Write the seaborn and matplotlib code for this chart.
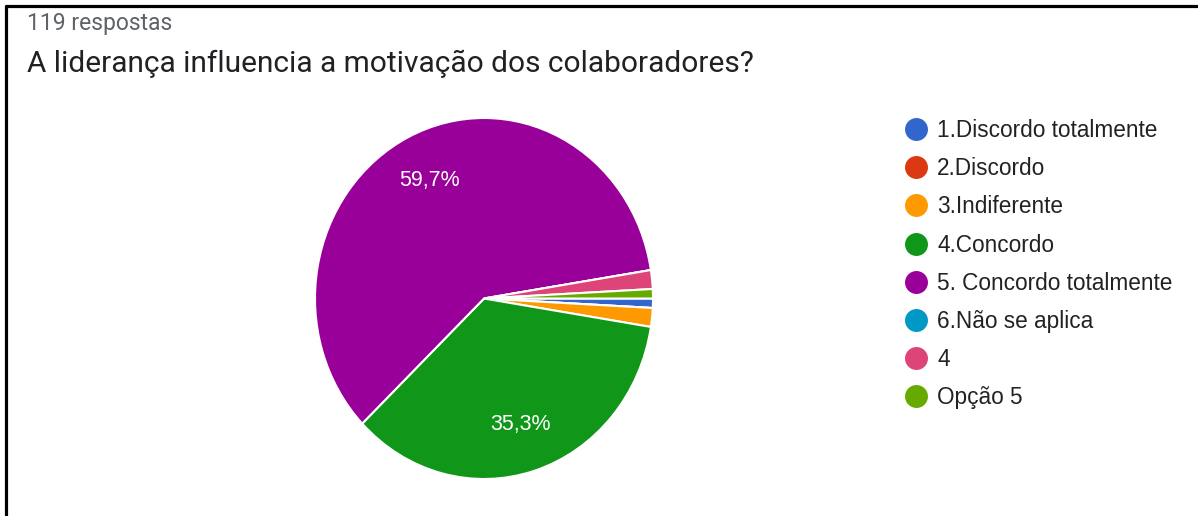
import matplotlib
matplotlib.use("Agg")
import matplotlib.pyplot as plt
from matplotlib.lines import Line2D
import seaborn as sns

categories = ["1.Discordo totalmente", "2.Discordo", "3.Indiferente", "4.Concordo",
              "5. Concordo totalmente", "6.Não se aplica", "4", "Opção 5"]
counts = [1, 0, 2, 42, 71, 0, 2, 1]
colors_hex = ["#3366cc", "#dc3912", "#ff9900", "#109618",
              "#990099", "#0099c6", "#dd4477", "#66aa00"]
subtitle = "119 respostas"
title = "A liderança influencia a motivação dos colaboradores?"

sns.set_theme(style="white")
plt.rcParams['font.family'] = ['Liberation Sans', 'DejaVu Sans']
palette = sns.color_palette(colors_hex)

W, H = 1198, 516
fig = plt.figure(figsize=(W / 100, H / 100), dpi=100)
fig.patch.set_facecolor("white")

# pie axes (reference is slightly stretched vertically)
left_px, right_px, top_px, bot_px = 315, 653, 118, 479
ax = fig.add_axes([left_px / W, (H - bot_px) / H, (right_px - left_px) / W, (bot_px - top_px) / H])

def fmt(p):
    return (f"{p:.1f}%".replace(".", ",")) if p > 5 else ""

wedges, texts, autotexts = ax.pie(
    counts, colors=palette, startangle=0, counterclock=False,
    autopct=fmt, pctdistance=0.73, radius=1.0,
    wedgeprops=dict(edgecolor="white", linewidth=1.5),
    textprops=dict(color="white", fontsize=15.5, family=["Liberation Sans", "DejaVu Sans"]),
)
ax.set_aspect("auto")
ax.set_xlim(-1, 1)
ax.set_ylim(-1, 1)
ax.axis("off")

# titles
fig.text(27 / W, 1 - 30 / H, subtitle, fontsize=16.5, color="#5f6368",
         family=["Roboto", "DejaVu Sans"], va="baseline", ha="left")
fig.text(27 / W, 1 - 72 / H, title, fontsize=21.5, color="#202124",
         family=["Roboto", "DejaVu Sans"], va="baseline", ha="left")

# legend
handles = [Line2D([0], [0], marker="o", linestyle="none", markersize=15.5,
                  markerfacecolor=c, markeredgecolor=c) for c in palette]
leg = fig.legend(handles, categories, loc="upper left",
                 bbox_to_anchor=(902.5 / W, 1 - 119 / H), frameon=False,
                 fontsize=16.3, labelspacing=0.67, handletextpad=0.33,
                 handlelength=1.2, borderaxespad=0, borderpad=0)
for t in leg.get_texts():
    t.set_color("#222222")

# border lines (left and top)
fig.add_artist(Line2D([6 / W, 6 / W], [0, 1 - 4.5 / H], transform=fig.transFigure,
                      color="black", linewidth=2.3, solid_capstyle="butt"))
fig.add_artist(Line2D([4.5 / W, 1], [1 - 5.5 / H, 1 - 5.5 / H], transform=fig.transFigure,
                      color="black", linewidth=2.3, solid_capstyle="butt"))

fig.savefig("out.png", dpi=100, facecolor="white")
